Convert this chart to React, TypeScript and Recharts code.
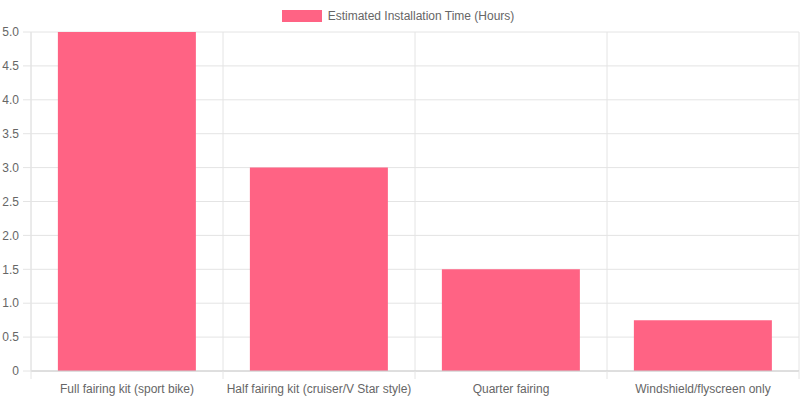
import { BarChart, Bar, XAxis, YAxis, CartesianGrid, Legend } from 'recharts';

const categories = [
  'Full fairing kit (sport bike)',
  'Half fairing kit (cruiser/V Star style)',
  'Quarter fairing',
  'Windshield/flyscreen only',
];
const hours = [5, 3, 1.5, 0.75];
const yTicks = [0, 0.5, 1, 1.5, 2, 2.5, 3, 3.5, 4, 4.5, 5];
const seriesName = 'Estimated Installation Time (Hours)';

const data = categories.map((name, i) => ({ name, hours: hours[i] }));

const FONT = '"Liberation Sans", Arial, Helvetica, sans-serif';
const GRID = '#e4e4e4';

// category label plus the boundary tick marks chart.js draws between bands
const XTick = (props: any) => {
  const { x, y, payload, index } = props;
  const half = payload.offset || 0;
  const top = y - 8;
  return (
    <g>
      <line x1={x - half} x2={x - half} y1={top} y2={top + 8} stroke={GRID} />
      {index === categories.length - 1 && (
        <line x1={x + half} x2={x + half} y1={top} y2={top + 8} stroke={GRID} />
      )}
      <text x={x} y={y + 14} textAnchor="middle" fill="#666" fontSize={12} fontFamily={FONT}>
        {payload.value}
      </text>
    </g>
  );
};

const LegendBox = () => (
  <div style={{ height: 32, display: 'flex', justifyContent: 'center', alignItems: 'flex-start', fontFamily: FONT }}>
    <div style={{ display: 'flex', alignItems: 'center', marginTop: 9, marginLeft: -4 }}>
      <span style={{ width: 40, height: 12, background: '#ff6384', display: 'inline-block', marginRight: 6 }} />
      <span style={{ fontSize: 12, color: '#666' }}>{seriesName}</span>
    </div>
  </div>
);

export default function App() {
  return (
    <div style={{ position: 'absolute', left: 0, top: 0, width: 800, height: 400, background: '#fff' }}>
      <BarChart
        width={800}
        height={400}
        data={data}
        margin={{ top: 0, right: 1, bottom: 0, left: 0 }}
        barCategoryGap="14%"
      >
        <Legend verticalAlign="top" align="center" content={<LegendBox />} wrapperStyle={{ top: 0, left: 0, width: 800 }} />
        <CartesianGrid
          stroke={GRID}
          verticalCoordinatesGenerator={({ offset }: any) =>
            categories.map((_, i) => offset.left + (i * offset.width) / categories.length).concat(offset.left + offset.width)
          }
        />
        <XAxis
          dataKey="name"
          height={29}
          interval={0}
          tickSize={8}
          tickMargin={0}
          tickLine={false}
          axisLine={{ stroke: '#ccc' }}
          tick={<XTick />}
        />
        <YAxis
          width={31}
          domain={[0, 5]}
          ticks={yTicks}
          interval={0}
          tickSize={8}
          tickMargin={4}
          tickLine={{ stroke: GRID }}
          axisLine={{ stroke: GRID }}
          tick={{ fill: '#666', fontSize: 12, fontFamily: FONT }}
          tickFormatter={(v: number) => (v === 0 ? '0' : v.toFixed(1))}
        />
        <Bar dataKey="hours" name={seriesName} fill="#ff6384" isAnimationActive={false} />
      </BarChart>
    </div>
  );
}
